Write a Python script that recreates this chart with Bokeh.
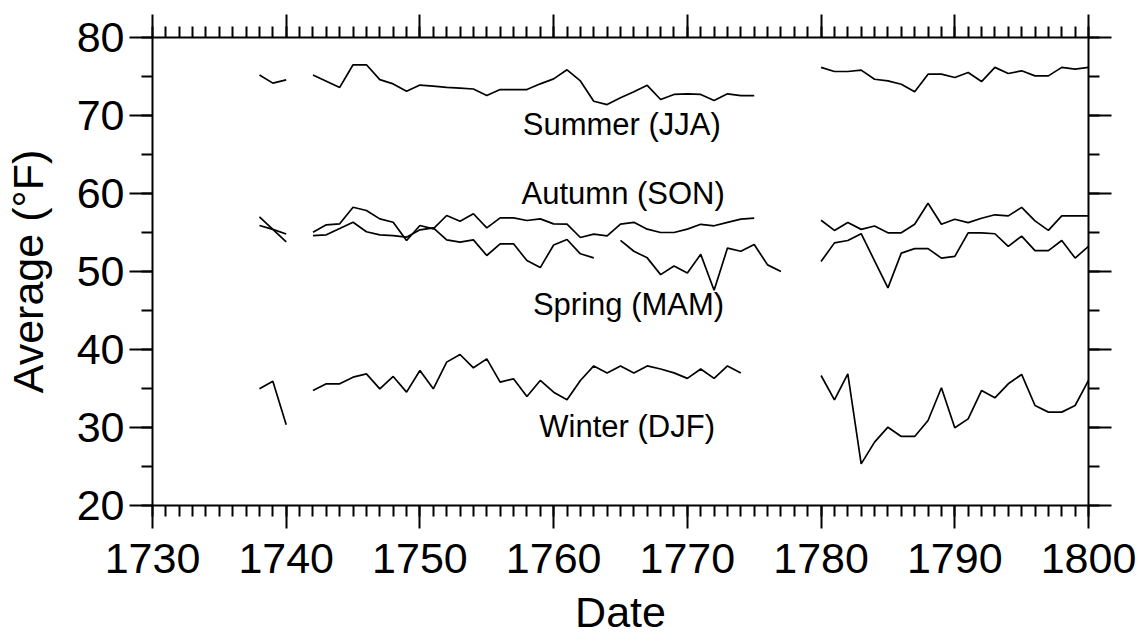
import math
from bokeh.plotting import figure
from bokeh.models import LinearAxis, SingleIntervalTicker, Range1d, ColumnDataSource, Label
from bokeh.embed import file_html
from bokeh.resources import INLINE

nan = float("nan")

years = list(range(1738, 1801))

summer = [75.2, 74.15, 74.57, nan,
          75.2, 74.4, 73.6, 76.5, 76.5, 74.6, 74.05, 73.1, 73.9, 73.76,
          73.6, 73.5, 73.4, 72.56, 73.33, 73.33, 73.33, 74.06, 74.7, 75.86,
          74.43, 71.83, 71.4, 72.27, 73.05, 73.87, 72.05, 72.7, 72.78, 72.7,
          71.92, 72.78, 72.56, 72.56, nan, nan, nan, nan,
          76.17, 75.64, 75.64, 75.82, 74.65, 74.43, 74.0, 73.05, 75.3, 75.3,
          74.87, 75.51, 74.35, 76.17, 75.38, 75.73, 75.08, 75.08, 76.17, 75.95, 76.17]

autumn = [57.0, 55.4, 53.8, nan,
          55.04, 55.98, 56.11, 58.24, 57.82, 56.75, 56.32, 53.97, 55.9, 55.47,
          57.18, 56.45, 57.4, 55.6, 56.88, 56.88, 56.54, 56.75, 56.11, 56.08,
          54.36, 54.79, 54.57, 56.08, 56.3, 55.43, 55.0, 55.0, 55.43, 56.05,
          55.86, 56.3, 56.72, 56.85, nan, nan, nan, nan,
          56.57, 55.27, 56.27, 55.4, 55.83, 54.96, 54.96, 56.05, 58.74, 56.05,
          56.7, 56.27, 56.83, 57.27, 57.13, 58.22, 56.49, 55.27, 57.13, 57.13, 57.13]

spring = [55.9, 55.4, 54.8, nan,
          54.6, 54.7, 55.5, 56.32, 55.1, 54.7, 54.6, 54.4, 55.34, 55.6,
          54.06, 53.76, 54.06, 52.05, 53.55, 53.55, 51.4, 50.5, 53.4, 54.1,
          52.27, 51.75, nan, 54.0, 52.6, 51.75, 49.6, 50.7, 49.8, 52.2,
          47.6, 53.0, 52.6, 53.45, 50.85, 50.0, nan, nan,
          51.28, 53.67, 53.97, 54.84, 51.37, 47.9, 52.36, 52.93, 52.93, 51.72,
          51.93, 54.96, 54.96, 54.84, 53.23, 54.54, 52.67, 52.67, 53.97, 51.72, 53.23]

winter = [34.96, 35.94, 30.34, nan,
          34.74, 35.6, 35.6, 36.45, 36.88, 34.96, 36.54, 34.53, 37.31, 34.96,
          38.38, 39.36, 37.65, 38.8, 35.81, 36.24, 33.97, 36.03, 34.53, 33.55,
          36.03, 37.9, 37.0, 37.9, 37.0, 37.9, 37.5, 37.0, 36.3, 37.5,
          36.3, 37.9, 37.0, nan, nan, nan, nan, nan,
          36.67, 33.55, 36.88, 25.34, 28.12, 30.04, 28.85, 28.85, 30.9, 35.09,
          29.96, 31.11, 34.74, 33.8, 35.6, 36.8, 32.82, 31.97, 31.97, 32.82, 36.03]

series_names = ["Summer (JJA)", "Autumn (SON)", "Spring (MAM)", "Winter (DJF)"]

source = ColumnDataSource(data=dict(year=years, summer=summer, autumn=autumn,
                                    spring=spring, winter=winter))

FONT = "Liberation Sans"

p = figure(width=1138, height=641, x_range=Range1d(1730, 1800), y_range=Range1d(20, 80),
           output_backend="svg", toolbar_location=None,
           x_axis_location=None, y_axis_location=None,
           min_border_left=152, min_border_right=50, min_border_top=37, min_border_bottom=136)
p.xgrid.visible = False
p.ygrid.visible = False
p.outline_line_color = None
p.background_fill_color = "white"
p.border_fill_color = "white"


def style_axis(ax, show_labels):
    ax.axis_line_width = 2
    ax.axis_line_color = "black"
    ax.major_tick_line_width = 2
    ax.minor_tick_line_width = 2
    ax.major_tick_line_color = "black"
    ax.minor_tick_line_color = "black"
    ax.major_tick_in = 0
    ax.major_tick_out = 23
    ax.minor_tick_in = 0
    ax.minor_tick_out = 11
    ax.major_label_text_font = FONT
    ax.axis_label_text_font = FONT
    ax.axis_label_text_font_style = "normal"
    ax.axis_label_text_color = "black"
    if show_labels:
        ax.major_label_text_color = "black"
        ax.major_label_text_font_size = "43px"
        ax.axis_label_text_font_size = "43px"
    else:
        ax.major_label_text_color = None
        ax.major_label_text_font_size = "1px"
        ax.major_label_standoff = 0


def xticker():
    return SingleIntervalTicker(interval=10, num_minor_ticks=10)


def yticker():
    return SingleIntervalTicker(interval=10, num_minor_ticks=2)


bottom = LinearAxis(ticker=xticker(), axis_label="Date")
style_axis(bottom, True)
bottom.major_label_standoff = 15
bottom.axis_label_standoff = 12
p.add_layout(bottom, "below")

left = LinearAxis(ticker=yticker(), axis_label="Average (°F)")
style_axis(left, True)
left.major_label_standoff = 5
left.axis_label_standoff = 22
p.add_layout(left, "left")

top = LinearAxis(ticker=xticker())
style_axis(top, False)
p.add_layout(top, "above")

right = LinearAxis(ticker=yticker())
style_axis(right, False)
p.add_layout(right, "right")

for col in ["summer", "autumn", "spring", "winter"]:
    p.line("year", col, source=source, line_color="black", line_width=1.7)

label_pos = [(1765.1, 68.9), (1765.2, 60.0), (1765.6, 45.75), (1765.5, 30.1)]
for name, (lx, ly) in zip(series_names, label_pos):
    p.add_layout(Label(x=lx, y=ly, text=name, text_align="center", text_baseline="alphabetic",
                       text_font=FONT, text_font_size="31px", text_color="black"))

open("out.html", "w").write(file_html(p, INLINE))
